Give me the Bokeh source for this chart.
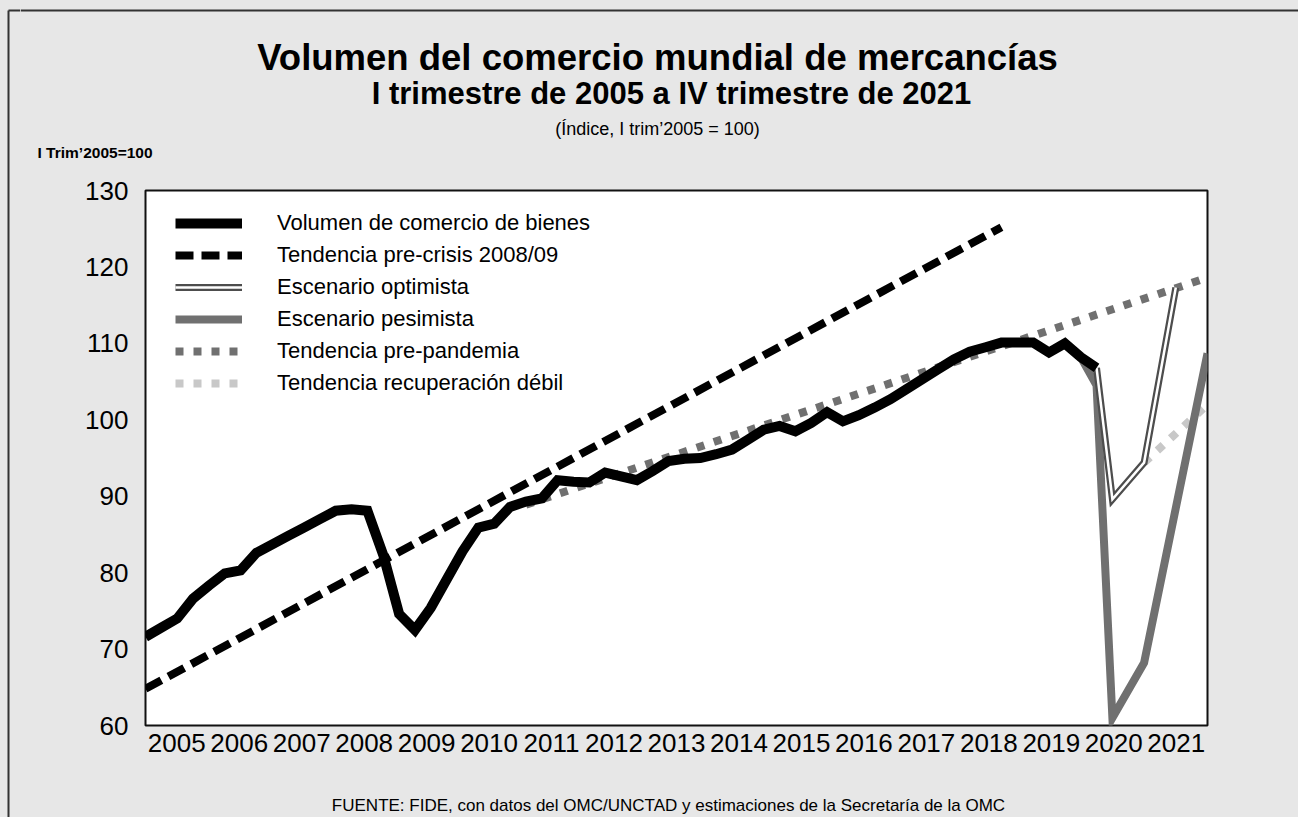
from bokeh.plotting import figure
from bokeh.layouts import row, column
from bokeh.models import Range1d, FixedTicker, Legend, LegendItem
from bokeh.embed import file_html
from bokeh.resources import INLINE
from bokeh.core.properties import value

# ---------------- data (índice, I trim 2005 = 100) ----------------
years = ["2005", "2006", "2007", "2008", "2009", "2010", "2011", "2012", "2013",
         "2014", "2015", "2016", "2017", "2018", "2019", "2020", "2021"]

# quarter index: 0 = I trim 2005 ... 67 = IV trim 2021
volumen_t = list(range(61))
volumen = [71.6, 72.8, 74.0, 76.6, 78.3, 79.9, 80.3, 82.6, 83.7, 84.8,
           85.9, 87.0, 88.1, 88.3, 88.1, 82.3, 74.6, 72.5, 75.4, 79.1,
           82.8, 85.9, 86.4, 88.6, 89.3, 89.7, 92.1, 91.9, 91.8, 93.1,
           92.6, 92.1, 93.3, 94.6, 94.9, 95.0, 95.5, 96.1, 97.4, 98.7,
           99.2, 98.5, 99.6, 101.0, 99.8, 100.6, 101.6, 102.7, 104.0, 105.3,
           106.6, 107.9, 108.9, 109.5, 110.1, 110.1, 110.1, 108.8, 110.0, 108.2,
           106.8]

precrisis_t = [0, 54]
precrisis = [64.8, 125.2]

prepandemia_t = [24, 67]
prepandemia = [88.9, 118.6]

optimista_t = [60, 61, 63, 65]
optimista = [106.8, 89.6, 94.4, 117.3]

pesimista_t = [59, 60, 61, 63, 67]
pesimista = [108.2, 104.5, 61.0, 68.2, 108.7]

debil_t = [63, 67]
debil = [94.4, 102.0]

y_ticks = [60, 70, 80, 90, 100, 110, 120, 130]

# ---------------- layout constants (canvas pixels) ----------------
SANS = "Liberation Sans"
GRAY = "#e7e7e7"
EDGE = "#333333"
TOTAL_W, TOTAL_H = 1298, 817
STRIP_W = 20
COL_W = TOTAL_W - STRIP_W
TOP_H = 170
MAIN_H = 605
BOT_H = TOTAL_H - TOP_H - MAIN_H


def blank(width, height, x0, x1, y0, y1):
    f = figure(width=width, height=height, output_backend="svg", toolbar_location=None,
               x_range=Range1d(x0, x1), y_range=Range1d(y1, y0),
               x_axis_location=None, y_axis_location=None, min_border=0,
               background_fill_color=GRAY, border_fill_color=GRAY, frame_align=False)
    f.outline_line_color = None
    f.xgrid.visible = False
    f.ygrid.visible = False
    return f


def put_text(f, text, x, y, size, bold=False, align="center"):
    f.text(x=[x], y=[y], text=[text], text_font=value(SANS), text_font_size=value(size),
           text_font_style="bold" if bold else "normal", text_align=align,
           text_baseline="middle", text_color="black")


# left strip with the outer frame edge
strip = blank(STRIP_W, TOTAL_H, 0, STRIP_W, 0, TOTAL_H)
strip.segment(x0=[8, 8], y0=[10, 10], x1=[8, STRIP_W], y1=[TOTAL_H, 10],
              line_color=EDGE, line_width=2)

# top block: titles
top = blank(COL_W, TOP_H, STRIP_W, TOTAL_W, 0, TOP_H)
top.segment(x0=[STRIP_W], y0=[10], x1=[TOTAL_W], y1=[10], line_color=EDGE, line_width=2)
put_text(top, "Volumen del comercio mundial de mercancías", 657, 57, "36.5px", bold=True)
put_text(top, "I trimestre de 2005 a IV trimestre de 2021", 671, 93, "31px", bold=True)
put_text(top, "(Índice, I trim’2005 = 100)", 657, 128, "18px")
put_text(top, "I Trim’2005=100", 37, 152, "15.5px", bold=True, align="left")

# main chart
FRAME_L, FRAME_R = 145, 1207
p = figure(width=COL_W, height=MAIN_H, output_backend="svg", toolbar_location=None,
           x_range=Range1d(0, 67), y_range=Range1d(60, 130),
           min_border_left=FRAME_L - STRIP_W, min_border_right=TOTAL_W - FRAME_R,
           min_border_top=20, min_border_bottom=50, frame_align=False,
           background_fill_color="white", border_fill_color=GRAY)
p.xgrid.visible = False
p.ygrid.visible = False
p.outline_line_color = "#111111"
p.outline_line_width = 2

n_years = len(years)
x_ticks = [(k + 0.5) * 67 / n_years for k in range(n_years)]
p.xaxis.ticker = FixedTicker(ticks=x_ticks)
p.xaxis.major_label_overrides = {t: y for t, y in zip(x_ticks, years)}
p.yaxis.ticker = FixedTicker(ticks=y_ticks)
for ax in (p.xaxis, p.yaxis):
    ax.axis_line_color = None
    ax.major_tick_line_color = None
    ax.minor_tick_line_color = None
    ax.major_tick_out = 0
    ax.major_tick_in = 0
    ax.major_label_text_color = "black"
    ax.major_label_text_font = SANS
    ax.major_label_text_font_size = "26px"
p.xaxis.major_label_standoff = 8
p.yaxis.major_label_standoff = 17

r_pp = p.line(prepandemia_t, prepandemia, line_color="#707070", line_width=8, line_dash="8 10")
r_db = p.line(debil_t, debil, line_color="#c8c8c8", line_width=8, line_dash="8 10")
r_pc = p.line(precrisis_t, precrisis, line_color="black", line_width=8, line_dash="18 8")
r_ps = p.line(pesimista_t, pesimista, line_color="#707070", line_width=8, line_join="miter")
r_op1 = p.line(optimista_t, optimista, line_color="#4d4d4d", line_width=7, line_join="miter")
r_op2 = p.line(optimista_t, optimista, line_color="white", line_width=2.5, line_join="miter")
r_v = p.line(volumen_t, volumen, line_color="black", line_width=10, line_join="miter")

legend = Legend(items=[
    LegendItem(label="Volumen de comercio de bienes", renderers=[r_v]),
    LegendItem(label="Tendencia pre-crisis 2008/09", renderers=[r_pc]),
    LegendItem(label="Escenario optimista", renderers=[r_op1, r_op2]),
    LegendItem(label="Escenario pesimista", renderers=[r_ps]),
    LegendItem(label="Tendencia pre-pandemia", renderers=[r_pp]),
    LegendItem(label="Tendencia recuperación débil", renderers=[r_db]),
], location=(30, 326), glyph_width=67, glyph_height=32, label_height=32,
    spacing=0, padding=10, margin=0, label_standoff=35,
    border_line_color=None, background_fill_alpha=0,
    label_text_font=SANS, label_text_font_size="22px", label_text_color="black")
p.add_layout(legend)

# bottom block: source
bottom = blank(COL_W, BOT_H, STRIP_W, TOTAL_W, TOP_H + MAIN_H, TOTAL_H)
put_text(bottom, "FUENTE: FIDE, con datos del OMC/UNCTAD y estimaciones de la Secretaría de la OMC",
         668, 805, "17px")

col = column(top, p, bottom, spacing=0, styles={"background-color": GRAY})
layout = row(strip, col, spacing=0, styles={"background-color": GRAY})
open("out.html", "w").write(file_html(layout, INLINE))
